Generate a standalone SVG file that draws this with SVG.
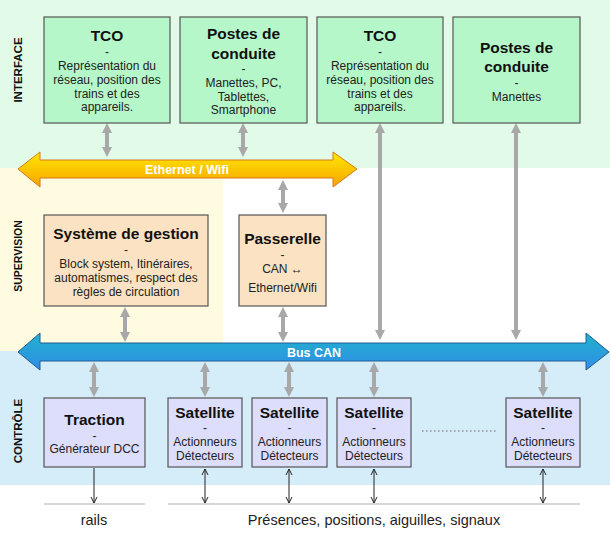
<svg xmlns="http://www.w3.org/2000/svg" width="610" height="533" viewBox="0 0 610 533">
<defs>
<linearGradient id="gEth" x1="0" y1="0" x2="0" y2="1">
<stop offset="0" stop-color="#ffe800"/>
<stop offset="1" stop-color="#f6a400"/>
</linearGradient>
<linearGradient id="gCan" x1="0" y1="0" x2="0" y2="1">
<stop offset="0" stop-color="#1fb2cc"/>
<stop offset="1" stop-color="#318de6"/>
</linearGradient>
<marker id="mg" markerUnits="userSpaceOnUse" markerWidth="10" markerHeight="10" refX="2" refY="5" orient="auto-start-reverse" viewBox="0 0 10 10">
<path d="M0,0 L10,5 L0,10 z" fill="#a8a8a8"/>
</marker>
<marker id="mb" markerUnits="userSpaceOnUse" markerWidth="8" markerHeight="8" refX="7" refY="4" orient="auto-start-reverse" viewBox="0 0 8 8">
<path d="M1,1 L7,4 L1,7" fill="none" stroke="#222" stroke-width="1"/>
</marker>
</defs>
<style>
.t{font-family:"Liberation Sans",Arial,sans-serif;text-anchor:middle;fill:#111}
.h{font-size:15.5px;font-weight:bold}
.b{font-size:12px;fill:#222}
.side{font-family:"Liberation Sans",Arial,sans-serif;font-weight:bold;font-size:11.5px;text-anchor:middle;fill:#111}
.green{fill:#b6f7c9;stroke:#555;stroke-width:1.2}
.orange{fill:#fbe2c2;stroke:#555;stroke-width:1.2}
.purple{fill:#ddddfc;stroke:#555;stroke-width:1.2}
.ga{stroke:#a8a8a8;stroke-width:4;fill:none;marker-start:url(#mg);marker-end:url(#mg)}
.ba{stroke:#222;stroke-width:1;fill:none}
.gl{stroke:#c8c8c8;stroke-width:1.5}
</style>
<!-- bands -->
<rect x="0" y="0" width="610" height="168" fill="#e2fbe8"/>
<rect x="0" y="168" width="223" height="183" fill="#fefbe0"/>
<rect x="223" y="168" width="387" height="183" fill="#ffffff"/>
<rect x="0" y="351" width="610" height="134" fill="#d5ecf9"/>
<rect x="0" y="485" width="610" height="48" fill="#ffffff"/>
<text class="side" transform="translate(22,70) rotate(-90)">INTERFACE</text>
<text class="side" style="font-size:10.5px" transform="translate(22,256) rotate(-90)">SUPERVISION</text>
<text class="side" transform="translate(22,431) rotate(-90)">CONTRÔLE</text>
<!-- connectors -->
<g id="connectors">
<line class="ga" x1="107" y1="131" x2="107" y2="149"/>
<line class="ga" x1="243" y1="131" x2="243" y2="149"/>
<line class="ga" x1="380" y1="131" x2="380" y2="332"/>
<line class="ga" x1="516" y1="131" x2="516" y2="332"/>
<line class="ga" x1="283" y1="188" x2="283" y2="205"/>
<line class="ga" x1="125" y1="315" x2="125" y2="334"/>
<line class="ga" x1="283" y1="315" x2="283" y2="334"/>
<line class="ga" x1="94" y1="370" x2="94" y2="389"/>
<line class="ga" x1="205" y1="370" x2="205" y2="389"/>
<line class="ga" x1="289" y1="370" x2="289" y2="389"/>
<line class="ga" x1="374" y1="370" x2="374" y2="389"/>
<line class="ga" x1="543" y1="370" x2="543" y2="389"/>
<line class="ba" x1="94" y1="468" x2="94" y2="503" marker-end="url(#mb)"/>
<line class="ba" x1="205" y1="469" x2="205" y2="503" marker-start="url(#mb)" marker-end="url(#mb)"/>
<line class="ba" x1="289" y1="469" x2="289" y2="503" marker-start="url(#mb)" marker-end="url(#mb)"/>
<line class="ba" x1="374" y1="469" x2="374" y2="503" marker-start="url(#mb)" marker-end="url(#mb)"/>
<line class="ba" x1="543" y1="469" x2="543" y2="503" marker-start="url(#mb)" marker-end="url(#mb)"/>
<line x1="422" y1="431" x2="496" y2="431" stroke="#666" stroke-width="1" stroke-dasharray="1.5,2.5"/>
</g>
<!-- buses -->
<g id="ethernet">
<polygon points="18,169 40,152 40,160 333,160 333,152 357,169 333,187 333,178 40,178 40,187" fill="url(#gEth)" stroke="#d9791a" stroke-width="1"/>
<text class="t" x="187" y="173.5" style="font-size:12.5px;font-weight:bold;fill:#ffffff">Ethernet / Wifi</text>
</g>
<g id="buscan">
<polygon points="18,352 40,333 40,343 586,343 586,333 609,352 586,370 586,361 40,361 40,370" fill="url(#gCan)" stroke="#1e5f96" stroke-width="1"/>
<text class="t" x="314" y="356.5" style="font-size:12.5px;font-weight:bold;fill:#ffffff">Bus CAN</text>
</g>
<!-- interface nodes -->
<g id="tco1">
<rect class="green" x="44" y="17" width="126" height="106"/>
<text class="t h" x="107" y="41">TCO</text>
<text class="t b" x="107" y="56">-</text>
<text class="t b" x="107" y="70">Représentation du</text>
<text class="t b" x="107" y="84">réseau, position des</text>
<text class="t b" x="107" y="98">trains et des</text>
<text class="t b" x="107" y="111">appareils.</text>
</g>
<g id="postes1">
<rect class="green" x="180" y="17" width="127" height="106"/>
<text class="t h" x="243.5" y="39">Postes de</text>
<text class="t h" x="243.5" y="59">conduite</text>
<text class="t b" x="243.5" y="73">-</text>
<text class="t b" x="243.5" y="87">Manettes, PC,</text>
<text class="t b" x="243.5" y="101">Tablettes,</text>
<text class="t b" x="243.5" y="114">Smartphone</text>
</g>
<g id="tco2">
<rect class="green" x="317" y="17" width="126" height="106"/>
<text class="t h" x="380" y="41">TCO</text>
<text class="t b" x="380" y="56">-</text>
<text class="t b" x="380" y="70">Représentation du</text>
<text class="t b" x="380" y="84">réseau, position des</text>
<text class="t b" x="380" y="98">trains et des</text>
<text class="t b" x="380" y="111">appareils.</text>
</g>
<g id="postes2">
<rect class="green" x="453" y="17" width="127" height="106"/>
<text class="t h" x="516.5" y="53">Postes de</text>
<text class="t h" x="516.5" y="72">conduite</text>
<text class="t b" x="516.5" y="87">-</text>
<text class="t b" x="516.5" y="101">Manettes</text>
</g>
<!-- supervision nodes -->
<g id="gestion">
<rect class="orange" x="44" y="215" width="164" height="91"/>
<text class="t h" x="126" y="239">Système de gestion</text>
<text class="t b" x="126" y="254">-</text>
<text class="t b" x="126" y="268">Block system, Itinéraires,</text>
<text class="t b" x="126" y="282">automatismes, respect des</text>
<text class="t b" x="126" y="296">règles de circulation</text>
</g>
<g id="passerelle">
<rect class="orange" x="239" y="215" width="87" height="91"/>
<text class="t h" x="282.5" y="244">Passerelle</text>
<text class="t b" x="282.5" y="259">-</text>
<text class="t b" x="282.5" y="273">CAN ↔</text>
<text class="t b" x="282.5" y="292">Ethernet/Wifi</text>
</g>
<!-- control nodes -->
<g id="traction">
<rect class="purple" x="44" y="398" width="101" height="69"/>
<text class="t h" x="94.5" y="425">Traction</text>
<text class="t b" x="94.5" y="440">-</text>
<text class="t b" x="94.5" y="453">Générateur DCC</text>
</g>
<g id="sat1">
<rect class="purple" x="168" y="398" width="74" height="69"/>
<text class="t h" x="205" y="418">Satellite</text>
<text class="t b" x="205" y="432">-</text>
<text class="t b" x="205" y="446">Actionneurs</text>
<text class="t b" x="205" y="460">Détecteurs</text>
</g>
<g id="sat2">
<rect class="purple" x="252" y="398" width="75" height="69"/>
<text class="t h" x="289.5" y="418">Satellite</text>
<text class="t b" x="289.5" y="432">-</text>
<text class="t b" x="289.5" y="446">Actionneurs</text>
<text class="t b" x="289.5" y="460">Détecteurs</text>
</g>
<g id="sat3">
<rect class="purple" x="337" y="398" width="74" height="69"/>
<text class="t h" x="374" y="418">Satellite</text>
<text class="t b" x="374" y="432">-</text>
<text class="t b" x="374" y="446">Actionneurs</text>
<text class="t b" x="374" y="460">Détecteurs</text>
</g>
<g id="sat4">
<rect class="purple" x="506" y="398" width="74" height="69"/>
<text class="t h" x="543" y="418">Satellite</text>
<text class="t b" x="543" y="432">-</text>
<text class="t b" x="543" y="446">Actionneurs</text>
<text class="t b" x="543" y="460">Détecteurs</text>
</g>
<!-- bottom -->
<g id="rails">
<line class="gl" x1="44" y1="504" x2="145" y2="504"/>
<text class="t" x="94" y="525" style="font-size:14.5px;fill:#222">rails</text>
</g>
<g id="signaux">
<line class="gl" x1="168" y1="504" x2="580" y2="504"/>
<text class="t" x="374" y="525" style="font-size:14.5px;fill:#222">Présences, positions, aiguilles, signaux</text>
</g>
</svg>
